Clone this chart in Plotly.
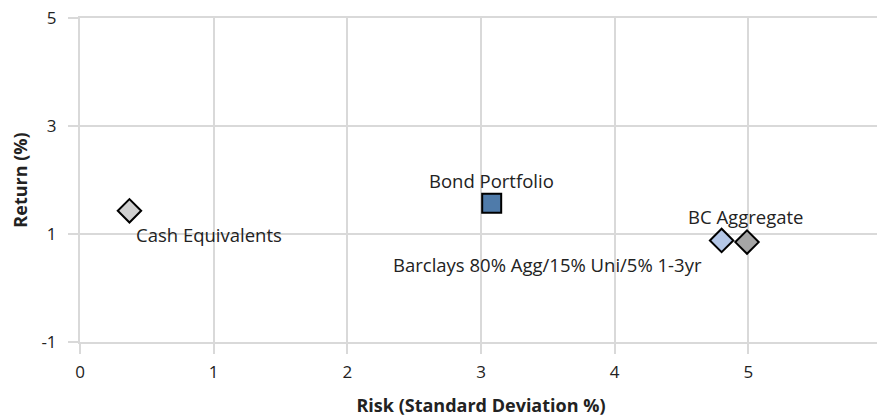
import plotly.graph_objects as go

names = ["Cash Equivalents", "Bond Portfolio", "Barclays 80% Agg/15% Uni/5% 1-3yr", "BC Aggregate"]
risk = [0.37, 3.08, 4.80, 4.99]
ret = [1.43, 1.57, 0.88, 0.85]
symbols = ["diamond", "square", "diamond", "diamond"]
colors = ["#D0D0D0", "#4F7BAA", "#B4C7E7", "#A5A5A5"]

x_ticks = [0, 1, 2, 3, 4, 5, 6]
y_ticks = [-1, 1, 3, 5]

# label placement per point: (xanchor, xshift, yshift)
label_pos = [
    ("left", 5, -24),
    ("center", 0, 23),
    ("right", -18, -24),
    ("center", -2, 26),
]

font = "Open Sans, Calibri, sans-serif"

fig = go.Figure()
for n, x, y, s, c in zip(names, risk, ret, symbols, colors):
    fig.add_trace(
        go.Scatter(
            x=[x],
            y=[y],
            name=n,
            mode="markers",
            marker=dict(symbol=s, size=19 if s == "square" else 18, color=c,
                        line=dict(color="black", width=2)),
            showlegend=False,
        )
    )

for n, x, y, (xa, xs, ys) in zip(names, risk, ret, label_pos):
    fig.add_annotation(
        x=x, y=y, text=n, showarrow=False,
        xanchor=xa, yanchor="middle", xshift=xs, yshift=ys,
        font=dict(size=18.5, color="#222222", family=font),
    )

# page body has an 8px margin, so the figure is drawn 8px smaller
fig.update_layout(
    width=877,
    height=409,
    margin=dict(l=72, r=3, t=10, b=75, autoexpand=False),
    plot_bgcolor="white",
    paper_bgcolor="white",
    font=dict(family=font, size=17, color="#222222"),
    xaxis=dict(
        range=[0, 6], tickvals=x_ticks, ticktext=[str(v) for v in x_ticks],
        showgrid=True, gridcolor="#D9D9D9", gridwidth=2, automargin=False,
        showline=True, mirror=True, linecolor="#D9D9D9", linewidth=2,
        zeroline=False, ticks="outside", ticklen=10, tickcolor="#D9D9D9", tickwidth=2,
        ticklabeloverflow="allow", ticklabelstandoff=4,
        tickfont=dict(size=17, color="#222222"),
        title=dict(text="<b>Risk (Standard Deviation %)</b>", font=dict(size=18), standoff=21),
    ),
    yaxis=dict(
        range=[-1, 5], tickvals=y_ticks, ticktext=[str(v) for v in y_ticks],
        showgrid=True, gridcolor="#D9D9D9", gridwidth=2, automargin=False,
        showline=True, mirror=True, linecolor="#D9D9D9", linewidth=2,
        zeroline=False, ticks="outside", ticklen=10, tickcolor="#D9D9D9", tickwidth=2,
        ticklabeloverflow="allow", ticklabelstandoff=8,
        tickfont=dict(size=17, color="#222222"),
        title=dict(text="<b>Return (%)</b>", font=dict(size=18), standoff=23),
    ),
)

fig.write_html("out.html")
